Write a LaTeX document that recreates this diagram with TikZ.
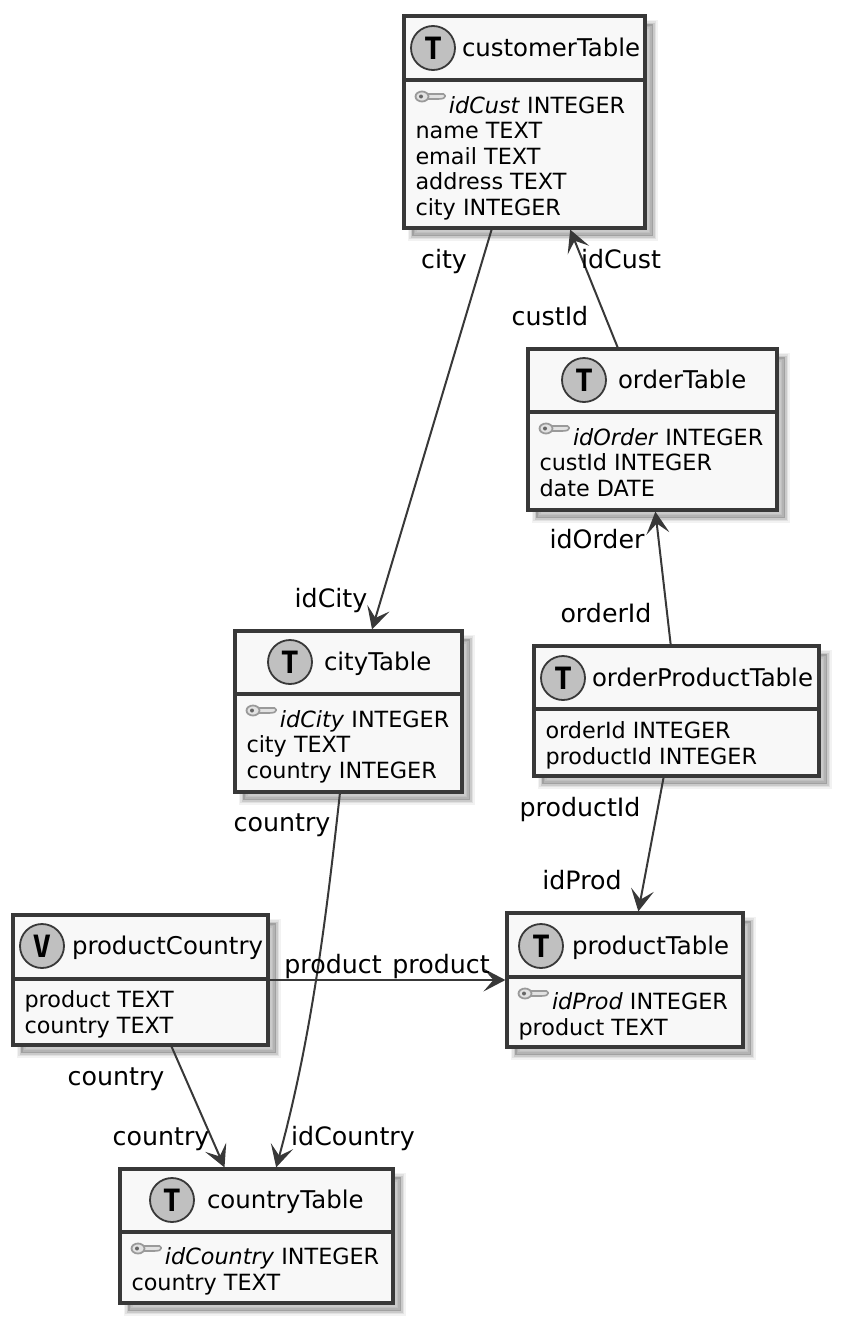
\documentclass[tikz,border=0pt]{standalone}
\usepackage{fontspec}
\setmainfont{DejaVu Sans}
\newfontfamily\badgefont{DejaVu Sans Mono Bold}
\usetikzlibrary{
    arrows.meta,
    shadows
}
\definecolor{linegray}{HTML}{383838}
\definecolor{boxfill}{HTML}{F8F8F8}
\definecolor{badgefill}{HTML}{C0C0C0}
\definecolor{keygray}{HTML}{9A9A9A}
\definecolor{keyfill}{HTML}{E2E2E2}
\newcommand{\px}{0.02cm}
\newcommand{\keygap}{\hspace*{0.67cm}}
\tikzset{
    tablebox/.style={draw=linegray, fill=boxfill, line width=3.2*\px, inner sep=0pt,
        general shadow={shadow xshift=8*\px, shadow yshift=-8*\px, fill=black, draw=black, line width=9*\px, opacity=.05},
        general shadow={shadow xshift=8*\px, shadow yshift=-8*\px, fill=black, draw=black, line width=6*\px, opacity=.07},
        general shadow={shadow xshift=8*\px, shadow yshift=-8*\px, fill=black, draw=black, line width=3*\px, opacity=.1}},
    headrule/.style={draw=linegray, line width=3.2*\px},
    badge/.style={circle, draw=linegray, fill=badgefill, line width=1.8*\px, minimum size=44*\px, inner sep=0pt, font=\badgefont\fontsize{17.5pt}{17.5pt}\selectfont},
    tabletitle/.style={anchor=base west, inner sep=0pt, font=\fontsize{13.9pt}{16pt}\selectfont},
    tablebody/.style={anchor=north west, inner sep=0pt, align=left, font=\fontsize{12.7pt}{14.5pt}\selectfont},
    rolelabel/.style={anchor=base, inner sep=0pt, font=\fontsize{14.4pt}{16pt}\selectfont},
    keyicon/.pic={
        \draw[keygray, line width=1.6*\px, fill=keyfill, rounded corners=1.5*\px] (9,-3) -- (29,-3) -- (29,1) -- (24,2) -- (9,2) -- cycle;
        \draw[keygray, line width=1.8*\px, fill=keyfill] (6,-0.5) ellipse (6.5 and 5);
        \fill[black!60] (5,-0.5) circle (2);
    }
}
\begin{document}
\begin{tikzpicture}[x=0.02cm, y=-0.02cm, ->, >={Stealth[length=22*\px, width=23*\px, inset=10*\px]}, line width=2*\px]
    \useasboundingbox (0,0) rectangle (841,1325);
    % customerTable
    \node[tablebox, minimum width=241*\px, minimum height=212*\px] (cust) at (524.5,122){};
    \draw[headrule, -] (404,80) -- (645,80);
    \node[badge] (custMark) at (433,48){T};
    \node[tabletitle] (custTitle) at (461,56){customerTable};
    \node[tablebody] (custBody) at (414.5,94.5){\strut\keygap\textit{idCust} INTEGER\\name TEXT\\email TEXT\\address TEXT\\city INTEGER};
    \pic at (416,97) {keyicon};
    % orderTable
    \node[tablebox, minimum width=249*\px, minimum height=161*\px] (order) at (652.5,429.5){};
    \draw[headrule, -] (528,412) -- (777,412);
    \node[badge] (orderMark) at (584,380){T};
    \node[tabletitle] (orderTitle) at (617,388){orderTable};
    \node[tablebody] (orderBody) at (538.5,426.5){\strut\keygap\textit{idOrder} INTEGER\\custId INTEGER\\date DATE};
    \pic at (540,429) {keyicon};
    % orderProductTable
    \node[tablebox, minimum width=285*\px, minimum height=130*\px] (orderProd) at (676.5,711){};
    \draw[headrule, -] (534,709) -- (819,709);
    \node[badge] (orderProdMark) at (563,678){T};
    \node[tabletitle] (orderProdTitle) at (591,686){orderProductTable};
    \node[tablebody] (orderProdBody) at (544.5,720){\strut orderId INTEGER\\productId INTEGER};
    % cityTable
    \node[tablebox, minimum width=227*\px, minimum height=161*\px] (city) at (348.5,711.5){};
    \draw[headrule, -] (235,694) -- (462,694);
    \node[badge] (cityMark) at (290,662){T};
    \node[tabletitle] (cityTitle) at (323,670){cityTable};
    \node[tablebody] (cityBody) at (245.5,708.5){\strut\keygap\textit{idCity} INTEGER\\city TEXT\\country INTEGER};
    \pic at (247,711) {keyicon};
    % productTable
    \node[tablebox, minimum width=236*\px, minimum height=134*\px] (prod) at (625,980){};
    \draw[headrule, -] (507,977) -- (743,977);
    \node[badge] (prodMark) at (541,946){T};
    \node[tabletitle] (prodTitle) at (571,954){productTable};
    \node[tablebody] (prodBody) at (517.5,991){\strut\keygap\textit{idProd} INTEGER\\product TEXT};
    \pic at (519,994) {keyicon};
    % productCountry
    \node[tablebox, minimum width=255*\px, minimum height=130*\px] (prodCty) at (140.5,980){};
    \draw[headrule, -] (13,979) -- (268,979);
    \node[badge] (prodCtyMark) at (42,946){V};
    \node[tabletitle] (prodCtyTitle) at (71,954){productCountry};
    \node[tablebody] (prodCtyBody) at (23.5,989){\strut product TEXT\\country TEXT};
    % countryTable
    \node[tablebox, minimum width=273*\px, minimum height=134*\px] (cty) at (256.5,1236){};
    \draw[headrule, -] (120,1232) -- (393,1232);
    \node[badge] (ctyMark) at (172,1200){T};
    \node[tabletitle] (ctyTitle) at (206,1208){countryTable};
    \node[tablebody] (ctyBody) at (130.5,1246){\strut\keygap\textit{idCountry} INTEGER\\country TEXT};
    \pic at (132,1249) {keyicon};
    % connectors
    \draw[linegray] (cust.-107.05) -- (city.74.4);
    \draw[linegray] (order.113.2) -- (cust.-67.7);
    \draw[linegray] (orderProd.95.7) -- (order.-88.9);
    \draw[linegray] (orderProd.-101.7) -- (prod.79.8);
    \draw[linegray] (city.-96) .. controls (326,920) and (311,1040) .. (cty.74.6);
    \draw[linegray] (prodCty.-65.6) -- (cty.115.2);
    \draw[linegray] (prodCty.east) -- (prod.west);
    % role labels
    \node[rolelabel] (l1) at (444,268) {city};
    \node[rolelabel] (l2) at (621,268) {idCust};
    \node[rolelabel] (l3) at (550,325) {custId};
    \node[rolelabel] (l4) at (597,548) {idOrder};
    \node[rolelabel] (l5) at (606,622) {orderId};
    \node[rolelabel] (l6) at (331,607) {idCity};
    \node[rolelabel] (l7) at (580,816) {productId};
    \node[rolelabel] (l8) at (582,889) {idProd};
    \node[rolelabel] (l9) at (282,831) {country};
    \node[rolelabel] (l10) at (333,973) {product};
    \node[rolelabel] (l11) at (441,973) {product};
    \node[rolelabel] (l12) at (116,1085) {country};
    \node[rolelabel] (l13) at (161,1145) {country};
    \node[rolelabel] (l14) at (353,1145) {idCountry};
\end{tikzpicture}
\end{document}
